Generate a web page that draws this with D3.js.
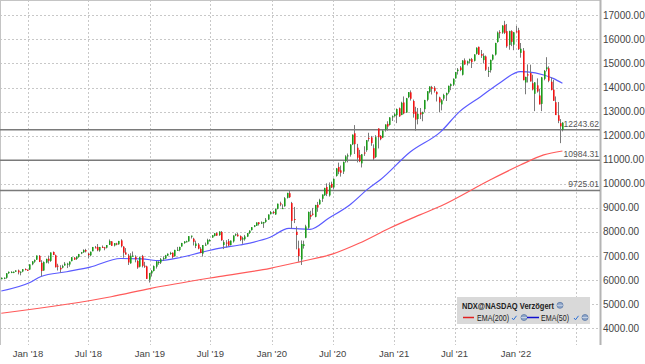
<!DOCTYPE html>
<html>
<head>
<meta charset="utf-8">
<script src="https://cdn.jsdelivr.net/npm/d3@7"></script>
<style>
  body { margin: 0; background: #fff; }
  svg { display: block; font-family: 'Liberation Sans', Arial, sans-serif; }
</style>
</head>
<body>
<div class="chart"></div>
<script>
// weekly candles, [open, high, low, close]
const weeks2017 = [
  [6040, 6110, 6035, 6097], [6095, 6115, 6040, 6098], [6100, 6290, 6060, 6284], [6290, 6360, 6260, 6344],
  [6340, 6370, 6290, 6341], [6330, 6360, 6290, 6345], [6350, 6410, 6340, 6400], [6400, 6440, 6240, 6324],
  [6310, 6360, 6200, 6350], [6360, 6460, 6330, 6454], [6460, 6490, 6410, 6430], [6430, 6440, 6390, 6396]
]
const weeks2018 = [
  [6440, 6660, 6420, 6653], [6660, 6790, 6620, 6779], [6770, 6860, 6720, 6835], [6850, 7022, 6840, 7022],
  [7010, 7040, 6750, 6759], [6720, 6830, 6160, 6378], [6400, 6780, 6390, 6752], [6730, 6890, 6700, 6882],
  [6890, 7020, 6690, 6803], [6800, 7150, 6760, 7150], [7170, 7190, 7040, 7046], [7030, 7060, 6530, 6536],
  [6600, 6680, 6400, 6581], [6510, 6620, 6310, 6448], [6520, 6640, 6490, 6584], [6610, 6750, 6600, 6684],
  [6650, 6720, 6500, 6682], [6650, 6780, 6560, 6769], [6790, 6960, 6780, 6951], [6930, 6960, 6840, 6855],
  [6880, 6990, 6840, 6969], [6960, 7090, 6930, 7082], [7110, 7170, 7080, 7156], [7160, 7280, 7130, 7247],
  [7250, 7300, 7150, 7192], [7100, 7130, 6900, 7040], [7030, 7190, 6990, 7178], [7200, 7380, 7200, 7375],
  [7360, 7420, 7330, 7357], [7380, 7500, 7200, 7238], [7230, 7380, 7180, 7375], [7380, 7440, 7340, 7368],
  [7360, 7380, 7240, 7335], [7350, 7460, 7320, 7456], [7470, 7690, 7460, 7627], [7610, 7620, 7420, 7427],
  [7440, 7540, 7400, 7535], [7520, 7550, 7450, 7481], [7490, 7630, 7470, 7628], [7650, 7700, 7360, 7410],
  [7390, 7410, 6930, 7140], [7150, 7330, 7060, 7065], [7020, 7090, 6630, 6735], [6700, 7120, 6680, 7010],
  [7000, 7190, 6960, 7019], [6960, 7030, 6740, 6862], [6800, 6830, 6470, 6526], [6560, 6980, 6530, 6949],
  [7000, 7050, 6530, 6594], [6600, 6760, 6510, 6592], [6570, 6600, 6050, 6055], [6020, 6300, 5900, 6288]
]
const weeks2019 = [
  [6280, 6420, 6150, 6386], [6380, 6610, 6360, 6580], [6560, 6800, 6480, 6776], [6740, 6790, 6640, 6754],
  [6730, 6920, 6670, 6867], [6880, 6990, 6800, 6915], [6900, 7050, 6880, 7030], [7020, 7110, 7000, 7095],
  [7110, 7180, 7050, 7129], [7140, 7150, 6900, 6958], [6990, 7260, 6980, 7256], [7250, 7380, 7230, 7259],
  [7250, 7390, 7200, 7378], [7400, 7550, 7390, 7543], [7540, 7620, 7510, 7605], [7600, 7640, 7570, 7614],
  [7610, 7830, 7600, 7827], [7820, 7850, 7730, 7845], [7720, 7760, 7440, 7593], [7420, 7640, 7330, 7520],
  [7480, 7540, 7280, 7311], [7300, 7370, 7120, 7128], [7100, 7460, 6980, 7456], [7470, 7560, 7430, 7475],
  [7490, 7720, 7480, 7671], [7660, 7700, 7600, 7671], [7770, 7870, 7760, 7863], [7840, 7960, 7820, 7943],
  [7950, 7990, 7840, 7851], [7870, 8030, 7840, 8016], [8000, 8040, 7630, 7659], [7460, 7660, 7290, 7578],
  [7560, 7660, 7360, 7557], [7620, 7710, 7410, 7441], [7460, 7650, 7440, 7640], [7610, 7860, 7560, 7852],
  [7870, 7940, 7830, 7905], [7890, 7960, 7810, 7822], [7830, 7860, 7620, 7677], [7690, 7800, 7510, 7740],
  [7700, 7880, 7640, 7815], [7810, 7960, 7790, 7950], [7960, 8070, 7920, 8055], [8080, 8200, 8060, 8200],
  [8220, 8290, 8200, 8276], [8260, 8400, 8250, 8394], [8400, 8410, 8270, 8331], [8350, 8440, 8330, 8400],
  [8360, 8420, 8170, 8411], [8420, 8580, 8380, 8506], [8520, 8730, 8500, 8725], [8740, 8870, 8730, 8829]
]
const weeks2020 = [
  [8830, 8880, 8740, 8794], [8730, 8980, 8710, 8954], [8960, 9180, 8940, 9173], [9190, 9260, 9070, 9142],
  [8990, 9150, 8960, 8991], [9070, 9450, 9050, 9402], [9420, 9630, 9390, 9623], [9610, 9740, 9410, 9446],
  [9200, 9250, 8150, 8462], [8540, 9040, 8370, 8531], [8010, 8230, 7280, 7875], [7320, 7640, 6770, 6994],
  [6860, 7650, 6630, 7503], [7420, 7640, 7310, 7487], [7760, 8300, 7740, 8230], [8180, 8850, 8130, 8832],
  [8710, 8880, 8520, 8634], [8760, 9000, 8680, 8718], [8630, 9130, 8610, 9121], [9130, 9250, 8840, 9015],
  [9150, 9380, 9130, 9325], [9380, 9560, 9250, 9555], [9530, 9840, 9500, 9824], [9870, 10020, 9490, 9588],
  [9520, 10060, 9470, 9946], [10000, 10090, 9830, 9849], [9850, 10230, 9780, 10207], [10330, 10660, 10300, 10642],
  [10700, 10880, 10400, 10504], [10560, 10760, 10300, 10462], [10510, 10930, 10410, 10905], [10940, 11190, 10880, 11139],
  [11140, 11260, 10890, 11182], [11210, 11650, 11130, 11628], [11640, 12050, 11610, 12042], [12100, 12440, 11240, 11648],
  [11500, 11660, 10890, 11084], [11200, 11410, 10900, 10936], [10850, 11240, 10680, 11226], [11300, 11560, 11160, 11292],
  [11400, 11820, 11330, 11812], [11910, 12120, 11760, 11898], [11930, 11990, 11580, 11692], [11480, 11640, 10990, 11052],
  [11110, 12020, 11070, 11938], [12300, 12300, 11470, 11937], [11990, 12030, 11810, 11855], [11920, 12230, 11900, 12209],
  [12250, 12470, 12170, 12464], [12490, 12600, 12210, 12378], [12450, 12770, 12420, 12756], [12790, 12840, 12610, 12804]
]
const weeks2021 = [
  [12810, 12940, 12790, 12888], [12850, 13130, 12520, 13105], [13140, 13170, 12780, 12804], [12860, 13410, 12850, 13366],
  [13380, 13630, 12890, 12925], [12960, 13570, 12950, 13556], [13600, 13810, 13560, 13807], [13800, 13880, 13460, 13535],
  [13440, 13500, 12750, 12909], [13000, 13200, 12210, 12668], [12690, 13150, 12470, 12906], [12960, 13150, 12690, 12881],
  [12900, 13000, 12600, 12977], [13100, 13490, 12980, 13480], [13490, 13850, 13430, 13845], [13820, 14050, 13760, 14041],
  [14020, 14070, 13710, 13951], [13990, 14060, 13790, 13860], [13820, 13840, 13420, 13720], [13590, 13620, 12970, 13380],
  [13300, 13520, 13050, 13471], [13540, 13740, 13460, 13687], [13680, 13790, 13440, 13774], [13800, 14080, 13740, 14070],
  [14060, 14170, 13890, 14142], [14120, 14380, 14060, 14361], [14380, 14650, 14370, 14640], [14680, 14810, 14540, 14744],
  [14830, 14890, 14680, 14728], [14530, 15140, 14500, 15121], [15130, 15210, 14950, 14959], [15010, 15120, 14920, 15088],
  [15110, 15200, 15010, 15173], [15180, 15230, 14810, 15053], [15110, 15380, 15080, 15375], [15400, 15670, 15370, 15652],
  [15690, 15700, 15350, 15366], [15390, 15560, 15230, 15323], [15140, 15420, 15000, 15315], [15290, 15330, 14690, 14741],
  [14680, 14860, 14440, 14690], [14720, 15160, 14620, 15146], [15160, 15380, 15120, 15355], [15370, 15860, 15330, 15850],
  [15890, 16330, 15860, 16283], [16300, 16380, 16050, 16256], [16280, 16590, 16230, 16573], [16610, 16770, 16220, 16272],
  [16340, 16640, 15650, 15712], [15770, 16360, 15570, 16345], [16340, 16380, 15720, 15897], [15780, 16310, 15550, 16294],
  [16330, 16560, 16290, 16320]
]
const weeks2022 = [
  [16380, 16480, 15560, 15593], [15440, 15850, 15240, 15611], [15530, 15640, 14300, 14306], [14210, 14450, 13720, 14440],
  [14550, 14960, 14210, 14499], [14600, 14950, 14250, 14253], [14180, 14530, 13880, 13917], [13740, 14230, 13020, 14212],
  [14090, 14380, 13790, 13838], [13670, 13950, 13300, 13301], [13320, 14440, 13020, 14420], [14360, 14730, 14300, 14691],
  [14760, 15260, 14670, 14838], [14800, 14880, 14220, 14284], [14240, 14420, 13880, 13898], [13910, 14320, 13450, 13452],
  [13390, 13630, 12860, 12855], [12850, 13400, 12520, 12618], [12520, 12690, 11690, 12387], [12250, 12560, 12180, 12540]
]

// moving averages
const ema200Dates = ['2017-10-13', '2018-09-07', '2019-01-04', '2019-07-26', '2019-12-27', '2020-03-27', '2020-07-02',
  '2020-09-18', '2020-12-18', '2021-03-19', '2021-05-21', '2021-10-15', '2022-01-14', '2022-03-25', '2022-05-20']
const ema200Values = [4625, 5310, 5660, 6150, 6490, 6770, 7090, 7530, 8155, 8710, 9080, 10160, 10780, 11200, 11365]

const ema50Dates = ['2017-10-13', '2018-01-05', '2018-02-09', '2018-04-27', '2018-07-06', '2018-10-05', '2018-12-07',
  '2019-02-01', '2019-04-05', '2019-05-31', '2019-07-26', '2019-09-27', '2019-12-27', '2020-02-21', '2020-04-24',
  '2020-06-19', '2020-08-21', '2020-10-16', '2020-11-20', '2021-02-19', '2021-05-21', '2021-07-16', '2021-09-17',
  '2021-11-12', '2022-01-14', '2022-02-04', '2022-03-25', '2022-04-22', '2022-05-20']
const ema50Values = [5550, 5890, 6150, 6350, 6540, 6900, 6880, 6810, 6950, 7140, 7320, 7460, 7780, 8150, 8110,
  8570, 9120, 9800, 10160, 11330, 12170, 13000, 13620, 14180, 14660, 14650, 14520, 14380, 14180]

const levelValues = [12243.62, 10984.31, 9725.01]
const yTicks = [4000, 5000, 6000, 7000, 8000, 9000, 10000, 11000, 12000, 13000, 14000, 15000, 16000, 17000]
const xTicks = ['2018-01-01', '2018-07-01', '2019-01-01', '2019-07-01', '2020-01-01', '2020-07-01', '2021-01-01',
  '2021-07-01', '2022-01-01', '2022-07-01']
const xTickLabels = ["Jan '18", "Jul '18", "Jan '19", "Jul '19", "Jan '20", "Jul '20", "Jan '21", "Jul '21", "Jan '22", '']

const W = 645
const H = 364
const plot = {left: 0, top: 0, right: 600, bottom: 345}
const UP = '#1c9a1c'
const DOWN = '#f01414'
const parse = d3.timeParse('%Y-%m-%d')

const svg = d3.select('.chart').append('svg')
  .attr('width', W)
  .attr('height', H)

const scaleX = d3.scaleTime()
  .domain([parse('2018-01-01'), parse('2022-01-01')])
  .range([28, 516])

const scaleY = d3.scaleLinear()
  .domain([4000, 17000])
  .range([328.3, 15.3])

const weeks = [].concat(weeks2017, weeks2018, weeks2019, weeks2020, weeks2021, weeks2022)
const fridays = d3.timeFriday.range(parse('2017-10-13'), parse('2022-05-21'))
const candles = weeks.map((w, i) => ({date: fridays[i], open: w[0], high: w[1], low: w[2], close: w[3]}))

svg.append('defs').append('clipPath').attr('id', 'clip')
  .append('rect')
  .attr('x', plot.left).attr('y', plot.top)
  .attr('width', plot.right - plot.left).attr('height', plot.bottom - plot.top)

// grid
const grid = svg.append('g').attr('class', 'grid')
grid.selectAll('line.h').data(yTicks).enter().append('line')
  .attr('class', 'h')
  .attr('x1', plot.left).attr('x2', plot.right)
  .attr('y1', d => Math.round(scaleY(d)) + 0.5).attr('y2', d => Math.round(scaleY(d)) + 0.5)
  .attr('stroke', '#c8c8c8').attr('stroke-dasharray', '2,2')
grid.selectAll('line.v').data(xTicks).enter().append('line')
  .attr('class', 'v')
  .attr('x1', d => Math.round(scaleX(parse(d))) + 0.5).attr('x2', d => Math.round(scaleX(parse(d))) + 0.5)
  .attr('y1', plot.top).attr('y2', plot.bottom)
  .attr('stroke', '#c8c8c8').attr('stroke-dasharray', '2,2')

// frame
svg.append('line').attr('x1', 0).attr('x2', plot.right).attr('y1', 0.5).attr('y2', 0.5).attr('stroke', '#c4c4c4')
svg.append('line').attr('x1', 0.5).attr('x2', 0.5).attr('y1', 0).attr('y2', plot.bottom).attr('stroke', '#c4c4c4')
svg.append('line').attr('x1', plot.right + 0.5).attr('x2', plot.right + 0.5).attr('y1', 0).attr('y2', plot.bottom)
  .attr('stroke', '#b4b4b4').attr('stroke-width', 2)

// horizontal levels
const levels = svg.append('g').attr('class', 'levels')
levels.selectAll('line').data(levelValues).enter().append('line')
  .attr('x1', plot.left).attr('x2', plot.right)
  .attr('y1', d => scaleY(d)).attr('y2', d => scaleY(d))
  .attr('stroke', '#7a7a7a').attr('stroke-width', 1.5)
levels.selectAll('text').data(levelValues).enter().append('text')
  .attr('x', 599)
  .attr('y', d => scaleY(d) - 3)
  .attr('text-anchor', 'end')
  .attr('font-size', 8.5)
  .attr('fill', '#555')
  .text(d => d3.format('.2f')(d))

const g = svg.append('g').attr('clip-path', 'url(#clip)')

// moving averages
const line = d3.line()
  .x(d => scaleX(d[0]))
  .y(d => scaleY(d[1]))
  .curve(d3.curveMonotoneX)

g.append('path')
  .datum(ema200Dates.map((d, i) => [parse(d), ema200Values[i]]))
  .attr('d', line)
  .attr('fill', 'none').attr('stroke', '#ff5a5a').attr('stroke-width', 1.2)

g.append('path')
  .datum(ema50Dates.map((d, i) => [parse(d), ema50Values[i]]))
  .attr('d', line)
  .attr('fill', 'none').attr('stroke', '#5a5aff').attr('stroke-width', 1.2)

// candles
const c = g.selectAll('g.candle').data(candles).enter().append('g').attr('class', 'candle')
c.append('line')
  .attr('x1', d => Math.round(scaleX(d.date)) + 0.5).attr('x2', d => Math.round(scaleX(d.date)) + 0.5)
  .attr('y1', d => scaleY(d.high)).attr('y2', d => scaleY(d.low))
  .attr('stroke', '#7a7a7a').attr('stroke-width', 1)
c.append('rect')
  .attr('x', d => Math.round(scaleX(d.date)))
  .attr('width', 1.6)
  .attr('y', d => scaleY(Math.max(d.open, d.close)))
  .attr('height', d => Math.max(1, Math.abs(scaleY(d.open) - scaleY(d.close))))
  .attr('fill', d => d.close >= d.open ? UP : DOWN)

// axes text
svg.append('g').selectAll('text').data(yTicks).enter().append('text')
  .attr('x', 603)
  .attr('y', d => scaleY(d) + 3.5)
  .attr('font-size', 10)
  .attr('fill', '#444')
  .text(d => d3.format('.2f')(d))

svg.append('g').selectAll('text').data(xTicks).enter().append('text')
  .attr('x', d => scaleX(parse(d)))
  .attr('y', 357)
  .attr('text-anchor', 'middle')
  .attr('font-size', 9.5)
  .attr('fill', '#444')
  .text((d, i) => xTickLabels[i])

// legend
const legend = svg.append('g').attr('transform', 'translate(457,297)')
legend.append('rect').attr('width', 133).attr('height', 27).attr('fill', '#d9d9d9')
legend.append('text').attr('x', 5).attr('y', 11.5).attr('font-size', 9).attr('font-weight', 'bold')
  .attr('textLength', 92).attr('lengthAdjust', 'spacingAndGlyphs')
  .attr('fill', '#222').text('NDX@NASDAQ Verzögert')

function globe (x, y) {
  legend.append('circle').attr('cx', x).attr('cy', y).attr('r', 3)
    .attr('fill', '#8fa6c8').attr('stroke', '#5c7aa8').attr('stroke-width', 0.8)
  legend.append('line').attr('x1', x - 3).attr('x2', x + 3).attr('y1', y).attr('y2', y)
    .attr('stroke', '#e8eef8').attr('stroke-width', 0.6)
}

function check (x, y) {
  legend.append('path').attr('d', `M${x - 2},${y} l1.5,1.8 l3,-4`)
    .attr('fill', 'none').attr('stroke', '#2a6fd6').attr('stroke-width', 1)
}

globe(103, 8.3)
legend.append('line').attr('x1', 6).attr('x2', 17).attr('y1', 20.5).attr('y2', 20.5).attr('stroke', '#e02020').attr('stroke-width', 1.5)
legend.append('text').attr('x', 20).attr('y', 23.5).attr('font-size', 9).attr('fill', '#222')
  .attr('textLength', 32).attr('lengthAdjust', 'spacingAndGlyphs').text('EMA(200)')
check(57, 21)
globe(67, 20.5)
legend.append('line').attr('x1', 70).attr('x2', 82).attr('y1', 20.5).attr('y2', 20.5).attr('stroke', '#1010d0').attr('stroke-width', 1.5)
legend.append('text').attr('x', 84).attr('y', 23.5).attr('font-size', 9).attr('fill', '#222')
  .attr('textLength', 28).attr('lengthAdjust', 'spacingAndGlyphs').text('EMA(50)')
check(119, 21)
globe(128, 20.5)
</script>
</body>
</html>
